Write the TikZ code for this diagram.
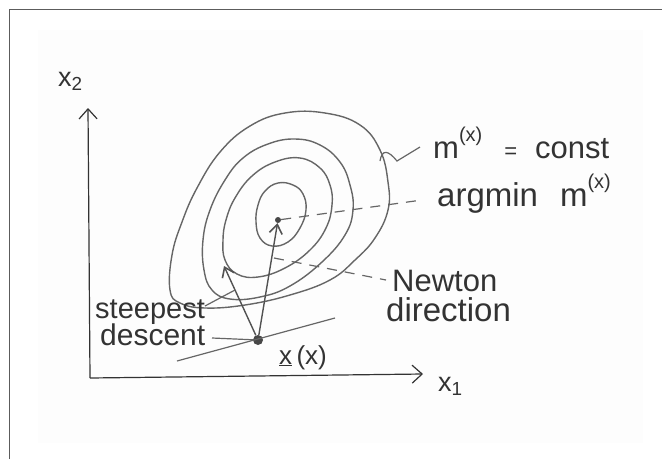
\documentclass[tikz,border=0pt]{standalone}
\usepackage{fontspec}
\setmainfont{Liberation Sans}
\usetikzlibrary{arrows.meta}
\definecolor{ink}{HTML}{333333}
\definecolor{pencil}{HTML}{666666}
\definecolor{paper}{HTML}{FDFDFD}
\begin{document}
\begin{tikzpicture}[x=1pt,y=-1pt,
  hand/.style={text=ink, inner sep=0pt, anchor=base west},
  contour/.style={draw=pencil, line width=1.4pt},
  leader/.style={draw=pencil, line width=1.2pt},
  axis/.style={draw=ink, line width=1.2pt, -{Straight Barb[length=10pt,width=18pt,line width=1.2pt]}},
  vec/.style={draw=ink!85, line width=1.4pt, -{Straight Barb[length=9pt,width=13pt,line width=1.6pt]}},
  dot/.style={circle, fill=ink!90, inner sep=0pt},
]
\useasboundingbox (0,0) rectangle (662,459);
\fill[white] (0,0) rectangle (662,459);
\fill[paper] (38,30) rectangle (643,443);
\draw[ink!80, line width=1pt] (9,459) -- (9,9) -- (662,9);

% axes
\coordinate (O) at (90,378);
\coordinate (yend) at (88,108);
\coordinate (xend) at (423,374);
\draw[axis] (O) -- (yend);
\draw[axis] (O) -- (xend);
\node[hand, font=\fontsize{27}{30}\selectfont] (x2) at (58,86) {x\textsubscript{2}};
\node[hand, font=\fontsize{27}{30}\selectfont] (x1) at (438,391) {x\textsubscript{1}};

% contours
\draw[contour] plot[smooth cycle, tension=0.7] coordinates {
 (170,290) (172,255) (182,222) (197,188) (220,152) (250,126) (285,113) (325,113)
 (360,125) (380,150) (388,182) (388,210) (375,238) (355,260) (330,280) (290,295)
 (245,305) (205,308) (180,303)};
\draw[contour] plot[smooth cycle, tension=0.7] coordinates {
 (203,240) (204,270) (212,290) (230,299) (260,297) (290,286) (322,262) (345,235)
 (353,210) (350,185) (340,162) (320,145) (295,139) (268,144) (243,158) (225,180) (210,210)};
\draw[contour] plot[smooth cycle, tension=0.7] coordinates {
 (223,240) (225,260) (237,274) (258,277) (285,268) (310,250) (326,228) (332,205)
 (330,185) (320,168) (300,158) (275,162) (252,176) (235,198) (226,220)};
\draw[contour] plot[smooth cycle, tension=0.7] coordinates {
 (256,222) (260,238) (272,246) (288,242) (300,228) (306,210) (303,194) (293,185)
 (278,183) (265,191) (258,205)};

% points
\node[dot, minimum size=6pt] (ctr) at (278,220) {};
\node[dot, minimum size=10pt] (xk) at (258,340) {};
\coordinate (sd) at (224,266);
\coordinate (t1) at (177,361);
\coordinate (t2) at (335,318);
\draw[leader] (t1) -- (t2);
\draw[vec] (xk) -- (sd);
\draw[vec] (xk) -- (ctr);

% labels and leaders
\node[hand, font=\fontsize{31}{34}\selectfont] (mconst) at (433,158)
 {m\raisebox{17pt}{\fontsize{20}{20}\selectfont(x)}\hspace{22pt}{\fontsize{22}{22}\selectfont=}\hspace{18pt}const};
\coordinate (w1) at (380,161);
\coordinate (w2) at (420,147);
\draw[leader] (w1) .. controls (382,149) and (388,150) .. (397,161) -- (w2);

\node[hand, font=\fontsize{33}{36}\selectfont] (argmin) at (437,206)
 {argmin\hspace{22pt}m\raisebox{18pt}{\fontsize{20}{20}\selectfont(x)}};
\coordinate (am) at (422,200);
\draw[leader, dash pattern=on 10pt off 8pt] (ctr) -- (am);

\node[hand, font=\fontsize{31}{34}\selectfont] (newton) at (392,291) {Newton};
\node[hand, font=\fontsize{33}{36}\selectfont] (direction) at (386,321) {direction};
\coordinate (nd) at (274,258);
\coordinate (ndl) at (386,280);
\draw[leader, dash pattern=on 10pt off 8pt] (nd) -- (ndl);

\node[hand, font=\fontsize{29}{31}\selectfont] (steepest) at (95,318) {steepest};
\node[hand, font=\fontsize{30}{32}\selectfont] (descent) at (100,345) {descent};
\coordinate (sdl) at (235,290);
\coordinate (s0) at (205,306);
\draw[leader] (s0) -- (sdl);
\coordinate (d0) at (212,338);
\draw[leader] (d0) -- (xk);

\node[hand, font=\fontsize{26}{28}\selectfont] (xklab) at (279,364) {\underline{x}\,(x)};
\end{tikzpicture}
\end{document}
